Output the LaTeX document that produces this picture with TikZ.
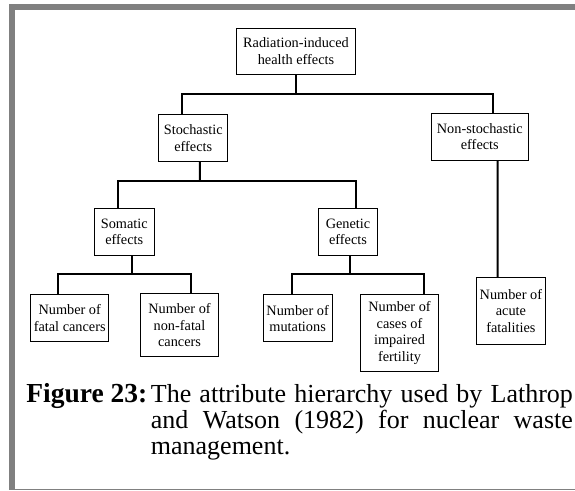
\documentclass[tikz,border=0pt]{standalone}
\usepackage{fontspec}
\setmainfont{Liberation Serif}
\usepackage{tikz}
\usetikzlibrary{positioning}
\hyphenpenalty=10000

\begin{document}
\begin{tikzpicture}
    [
      x=1pt, y=1pt,
      attr/.style={draw=black, line width=1pt, align=center, inner xsep=3pt, inner ysep=0pt,
        font=\fontsize{14.3}{16.5}\selectfont},
      link/.style={line width=2pt},
      frame/.style={fill=black!50, draw=none},
      caption/.style={inner sep=0pt, font=\fontsize{26}{26}\selectfont},
    ]

    \useasboundingbox (0,0) rectangle (575,-490);
    \fill [white] (0,0) rectangle (575,-490);

    \fill [frame] (9,-4) rectangle (575,-10);
    \fill [frame] (9,-4) rectangle (15,-490);
    \fill [frame] (15,-488.5) rectangle (575,-490);

    \node (rad) [attr, minimum width=119pt, minimum height=46pt] at (296,-51.2) {Radiation-induced\\health effects};
    \node (stoch) [attr, minimum width=69pt, minimum height=46.5pt] at (193.3,-138.2) {Stochastic\\effects};
    \node (nonstoch) [attr, minimum width=96.4pt, minimum height=46.7pt] at (479.8,-136.7) {Non-stochastic\\effects};
    \node (somatic) [attr, minimum width=59.4pt, minimum height=46.6pt] at (124.3,-232) {Somatic\\effects};
    \node (genetic) [attr, minimum width=59.4pt, minimum height=46.6pt] at (348,-232) {Genetic\\effects};
    \node (fatal) [attr, minimum width=78.5pt, minimum height=47pt] at (69.7,-318.2) {Number of\\fatal cancers};
    \node (nonfatal) [attr, minimum width=78.2pt, minimum height=62.7pt] at (179.5,-325.3) {Number of\\non-fatal\\cancers};
    \node (mutations) [attr, minimum width=69.2pt, minimum height=46.7pt] at (297.6,-318.3) {Number of\\mutations};
    \node (fertility) [attr, minimum width=78pt, minimum height=77.7pt] at (399.5,-332.9) {Number of\\cases of\\impaired\\fertility};
    \node (acute) [attr, minimum width=69.7pt, minimum height=66.3pt] at (510.9,-310.9) {Number of\\acute\\fatalities};

    \coordinate (rad-fork) at (296,-94);
    \coordinate (stoch-fork) at (199.9,-181);
    \coordinate (somatic-fork) at (132,-274);
    \coordinate (genetic-fork) at (350.2,-274);

    \draw [link] (rad.south) -- (rad-fork);
    \draw [link] (rad-fork) -| ([xshift=-11.8pt]stoch.north);
    \draw [link] (rad-fork) -| ([xshift=12.7pt]nonstoch.north);

    \draw [link] ([xshift=6.6pt]stoch.south) -- (stoch-fork);
    \draw [link] (stoch-fork) -| ([xshift=-6.3pt]somatic.north);
    \draw [link] (stoch-fork) -| ([xshift=7.7pt]genetic.north);

    \draw [link] ([xshift=7.7pt]somatic.south) -- (somatic-fork);
    \draw [link] (somatic-fork) -| ([xshift=-12.1pt]fatal.north);
    \draw [link] (somatic-fork) -| ([xshift=11.5pt]nonfatal.north);

    \draw [link] ([xshift=2.2pt]genetic.south) -- (genetic-fork);
    \draw [link] (genetic-fork) -| ([xshift=-5.3pt]mutations.north);
    \draw [link] (genetic-fork) -| ([xshift=24.8pt]fertility.north);

    \draw [link] ([xshift=17.8pt]nonstoch.south) -- ([xshift=-13.3pt]acute.north);

    \node (cap-label) [caption, anchor=base east, font=\fontsize{27.5}{26}\selectfont\bfseries] at (147.5,-402) {Figure 23:};
    \node (cap-text) [caption, anchor=north west, text width=422pt, align=justify] at (150.7,-384)
      {The attribute hierarchy used by Lathrop and Watson (1982) for nuclear waste management.};

  \end{tikzpicture}
\end{document}
